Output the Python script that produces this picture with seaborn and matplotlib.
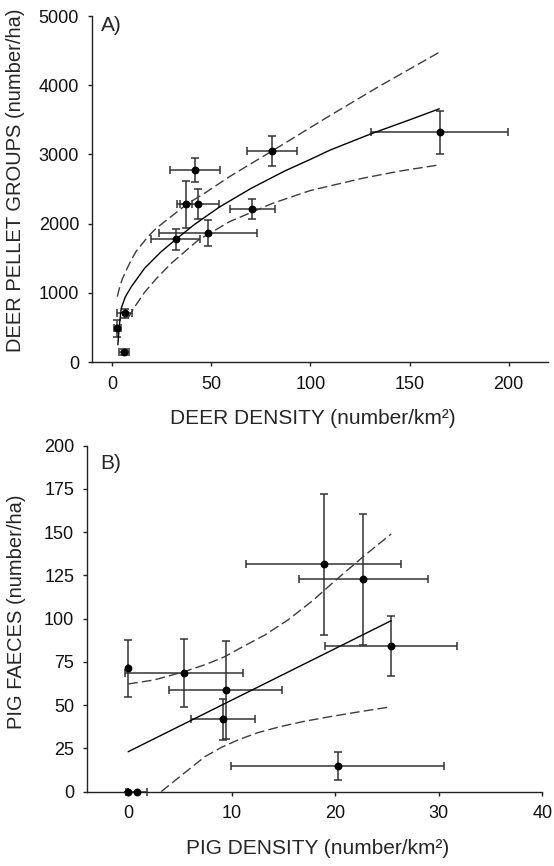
import matplotlib
matplotlib.use("Agg")
import matplotlib.pyplot as plt
import seaborn as sns
import numpy as np

# ---- panel A: deer ----
deer_density = [2.5, 6.2, 5.9, 31.9, 37.3, 43.2, 41.5, 48.2, 70.6, 80.7, 165.1]
deer_pellets = [490, 706, 147, 1776, 2282, 2282, 2777, 1862, 2214, 3052, 3322]
deer_density_err = [1.9, 3.8, 2.5, 12.4, 3.0, 10.8, 12.6, 24.6, 11.3, 12.5, 34.7]
deer_pellets_err = [120, 65, 40, 150, 340, 215, 175, 190, 140, 215, 310]

deer_fit_x = [2.8, 3.5, 4.5, 6.5, 9.6, 16.3, 24.7, 31.9, 41.5, 54, 70, 86.9, 100, 110, 130.7, 150, 165]
deer_fit_y = [250, 520, 779, 940, 1091, 1357, 1597, 1770, 1990, 2240, 2510, 2760, 2930, 3065, 3300, 3500, 3660]
deer_upper_x = [2.5, 3.5, 5, 7.9, 10, 12, 18, 22, 26.4, 38, 46.6, 59.2, 80.7, 109.6, 135, 165.1]
deer_upper_y = [947, 1060, 1200, 1380, 1500, 1600, 1814, 1930, 2030, 2290, 2441, 2681, 3052, 3558, 3990, 4478]
deer_lower_x = [8, 11.3, 16.3, 22, 29.8, 43.2, 59.2, 81, 100, 126.4, 145, 165.1]
deer_lower_y = [640, 800, 1010, 1200, 1429, 1760, 2030, 2296, 2480, 2657, 2760, 2850]

# ---- panel B: pigs ----
pig_density = [0, 0.81, 0, 5.4, 9.44, 9.18, 18.88, 22.71, 25.38, 20.23]
pig_faeces = [0, 0, 71.2, 68.7, 58.7, 41.8, 131.4, 122.7, 84.3, 14.75]
pig_density_err = [0, 1.0, 0, 5.7, 5.45, 3.1, 7.5, 6.25, 6.4, 10.3]
pig_faeces_err = [0, 0, 16.3, 19.7, 28.6, 12, 40.7, 37.9, 17.2, 8]

pig_fit_x = [0, 25.4]
pig_fit_y = [23.0, 98.8]
pig_upper_x = [0, 2.5, 5.4, 7.5, 9.34, 11, 13.2, 15.5, 17.9, 20, 22.7, 24, 25.4]
pig_upper_y = [62.2, 64.5, 69.3, 73.5, 78.0, 83.5, 90.5, 99.5, 110.8, 122.0, 135.8, 142.2, 148.9]
pig_lower_x = [3.2, 5.5, 7.4, 9, 10.6, 12.5, 14.66, 17, 19.5, 22.5, 25.4]
pig_lower_y = [0, 11, 20.1, 25.5, 29.8, 34.0, 37.5, 40.6, 43.3, 46.3, 49.0]

sns.set_theme(style="ticks")
plt.rcParams['font.family'] = ['Liberation Sans', 'DejaVu Sans']

fig = plt.figure(figsize=(5.54, 8.66), dpi=100)
axA = fig.add_axes([0.1652, 0.5818, 0.8245, 0.3997])
axB = fig.add_axes([0.1565, 0.0860, 0.8224, 0.3993])

err_kw = dict(fmt='none', ecolor='#333333', elinewidth=1.1, capsize=2.8, capthick=1.1, zorder=2)


def draw_panel(ax, x, y, xerr, yerr, fit, upper, lower):
    ax.errorbar(x, y, xerr=xerr, yerr=yerr, clip_on=False, **err_kw)
    sns.lineplot(x=fit[0], y=fit[1], ax=ax, color='black', lw=1.0,
                 sort=False, estimator=None, zorder=2)
    for cx, cy in (upper, lower):
        sns.lineplot(x=cx, y=cy, ax=ax, color='#3c3c3c', lw=1.0, sort=False,
                     estimator=None, zorder=2).lines[-1].set_dashes((7, 3))
    sns.scatterplot(x=x, y=y, ax=ax, color='black', s=32, edgecolor='black',
                    linewidth=0, zorder=3, clip_on=False)


draw_panel(axA, deer_density, deer_pellets, deer_density_err, deer_pellets_err,
           (deer_fit_x, deer_fit_y), (deer_upper_x, deer_upper_y),
           (deer_lower_x, deer_lower_y))
draw_panel(axB, pig_density, pig_faeces, pig_density_err, pig_faeces_err,
           (pig_fit_x, pig_fit_y), (pig_upper_x, pig_upper_y),
           (pig_lower_x, pig_lower_y))

axA.set_xlim(-10.5, 220)
axA.set_ylim(0, 5000)
axA.set_xticks(np.arange(0, 201, 50))
axA.set_yticks(np.arange(0, 5001, 1000))
axA.set_xlabel("DEER DENSITY (number/km²)", fontsize=15)
axA.set_ylabel("DEER PELLET GROUPS (number/ha)", fontsize=14.5)
axA.xaxis.set_label_coords(0.485, -0.135)
axA.yaxis.set_label_coords(-0.145, 0.526)
axA.text(0.02, 1.0, "A)", transform=axA.transAxes, fontsize=15, va='top', ha='left')

axB.set_xlim(-4, 40)
axB.set_ylim(0, 200)
axB.set_xticks(np.arange(0, 41, 10))
axB.set_yticks(np.arange(0, 201, 25))
axB.set_xlabel("PIG DENSITY (number/km²)", fontsize=15)
axB.set_ylabel("PIG FAECES (number/ha)", fontsize=14.5)
axB.xaxis.set_label_coords(0.507, -0.138)
axB.yaxis.set_label_coords(-0.133, 0.519)
axB.text(0.029, 0.975, "B)", transform=axB.transAxes, fontsize=15, va='top', ha='left')

for ax in (axA, axB):
    sns.despine(ax=ax)
    ax.set_facecolor('white')
    for s in ('left', 'bottom'):
        ax.spines[s].set_color('#222222')
        ax.spines[s].set_linewidth(1.0)
    ax.tick_params(axis='both', direction='out', length=3, width=1.0, color='#222222',
                   labelsize=13, labelcolor='#111111')
    ax.tick_params(axis='x', pad=7)
    ax.tick_params(axis='y', pad=6)
    ax.grid(False)

fig.savefig("out.png", dpi=100, facecolor='white')
